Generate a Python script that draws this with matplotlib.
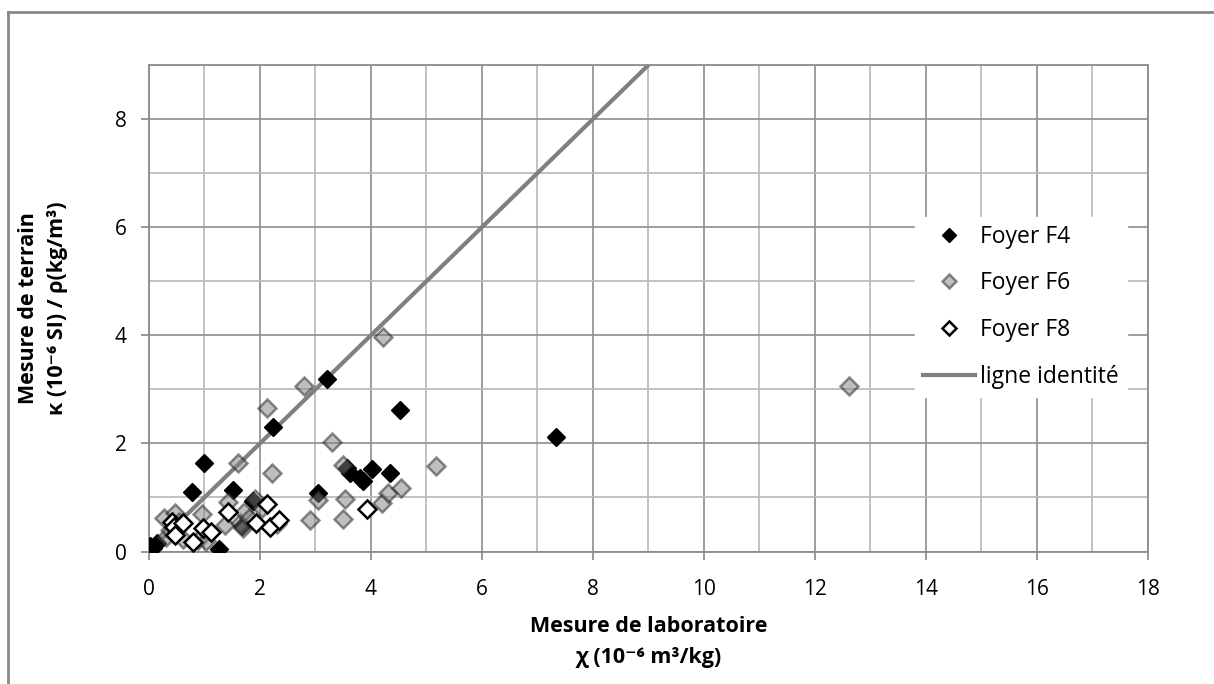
import matplotlib.pyplot as plt
from matplotlib.lines import Line2D
from matplotlib.ticker import MultipleLocator

plt.rcParams['font.family'] = ['Open Sans', 'DejaVu Sans']

# Foyer F4
f4_x = [0.02, 0.08, 0.14, 0.78, 0.99, 1.26, 1.52, 2.23, 3.21, 4.52, 7.34, 3.05,
        3.56, 3.62, 3.80, 3.86, 4.01, 4.35, 1.88, 1.68]
f4_y = [0.10, 0.06, 0.15, 1.11, 1.64, 0.04, 1.13, 2.31, 3.20, 2.62, 2.11, 1.08,
        1.54, 1.45, 1.36, 1.30, 1.52, 1.46, 0.93, 0.47]

# Foyer F6
f6_x = [0.28, 0.47, 0.95, 0.31, 0.62, 0.38, 0.88, 0.55, 1.43, 1.37, 1.64, 1.72,
        1.91, 1.70, 1.80, 2.03, 1.61, 2.21, 2.12, 2.79, 3.29, 4.22, 3.50, 5.18,
        3.05, 3.53, 2.90, 3.49, 4.19, 4.31, 4.55, 12.62, 2.30, 1.02]
f6_y = [0.62, 0.72, 0.69, 0.27, 0.24, 0.40, 0.22, 0.55, 0.92, 0.49, 0.52, 0.74,
        0.98, 0.43, 0.62, 0.80, 1.64, 1.45, 2.65, 3.06, 2.02, 3.97, 1.60, 1.59,
        0.95, 0.98, 0.58, 0.60, 0.89, 1.08, 1.17, 3.07, 0.50, 0.20]

# Foyer F8
f8_x = [0.41, 0.45, 0.47, 0.61, 0.80, 0.97, 1.11, 1.43, 1.93, 2.13, 2.18, 2.34, 3.92]
f8_y = [0.55, 0.46, 0.31, 0.52, 0.18, 0.43, 0.36, 0.73, 0.53, 0.88, 0.45, 0.58, 0.78]

ident = [0, 18]

fig = plt.figure(figsize=(12.14, 6.84), dpi=100)
ax = fig.add_axes([0.1227, 0.1937, 0.8229, 0.7113])

ax.plot(ident, ident, color='#808080', lw=3, label='ligne identité', zorder=2)
ax.plot(f4_x, f4_y, 'D', ms=9, mfc='black', mec='black', mew=1, ls='none',
        label='Foyer F4', zorder=3)
ax.plot(f6_x, f6_y, 'D', ms=9, mfc=(0.5, 0.5, 0.5, 0.5), mec=(0.12, 0.12, 0.12, 0.5),
        mew=1.8, ls='none', label='Foyer F6', zorder=4)
ax.plot(f8_x, f8_y, 'D', ms=9, mfc='white', mec='black', mew=1.8, ls='none',
        label='Foyer F8', zorder=5)

ax.set_xlim(0, 18)
ax.set_ylim(0, 9)
ax.xaxis.set_major_locator(MultipleLocator(2))
ax.xaxis.set_minor_locator(MultipleLocator(1))
ax.yaxis.set_major_locator(MultipleLocator(2))
ax.yaxis.set_minor_locator(MultipleLocator(1))
ax.grid(which='major', color='#959595', lw=1.3)
ax.grid(which='minor', color='#bcbcbc', lw=1.3)
ax.set_axisbelow(True)
ax.tick_params(which='major', direction='out', length=6, width=1.2, color='#888888',
               labelsize=15)
ax.tick_params(axis='x', pad=14)
ax.tick_params(axis='y', pad=10)
ax.tick_params(which='minor', length=0)
for s in ax.spines.values():
    s.set_color('#8c8c8c')
    s.set_linewidth(1.3)

ax.set_xlabel('Mesure de laboratoire\nχ (10⁻⁶ m³/kg)', fontsize=15.5, fontweight='bold',
              labelpad=11, linespacing=1.65)
ax.set_ylabel('Mesure de terrain\nκ (10⁻⁶ SI) / ρ(kg/m³)', fontsize=15.5, fontweight='bold',
              labelpad=34, linespacing=1.45)

h, l = ax.get_legend_handles_labels()
order = [1, 2, 3, 0]
leg = ax.legend([h[i] for i in order], [l[i] for i in order], loc='upper left',
                bbox_to_anchor=(0.755, 0.712), fontsize=16.5, frameon=True,
                fancybox=False, framealpha=1, edgecolor='white', facecolor='white',
                labelspacing=1.0, handlelength=2.3, borderpad=0.35, handletextpad=0.2,
                markerscale=0.75)

# outer chart border
fig.add_artist(Line2D([0.0066, 0.0066], [0, 0.9825], color='#888888', lw=2))
fig.add_artist(Line2D([0.0066, 1.0], [0.9825, 0.9825], color='#888888', lw=2))

fig.savefig('out.png', dpi=100)
